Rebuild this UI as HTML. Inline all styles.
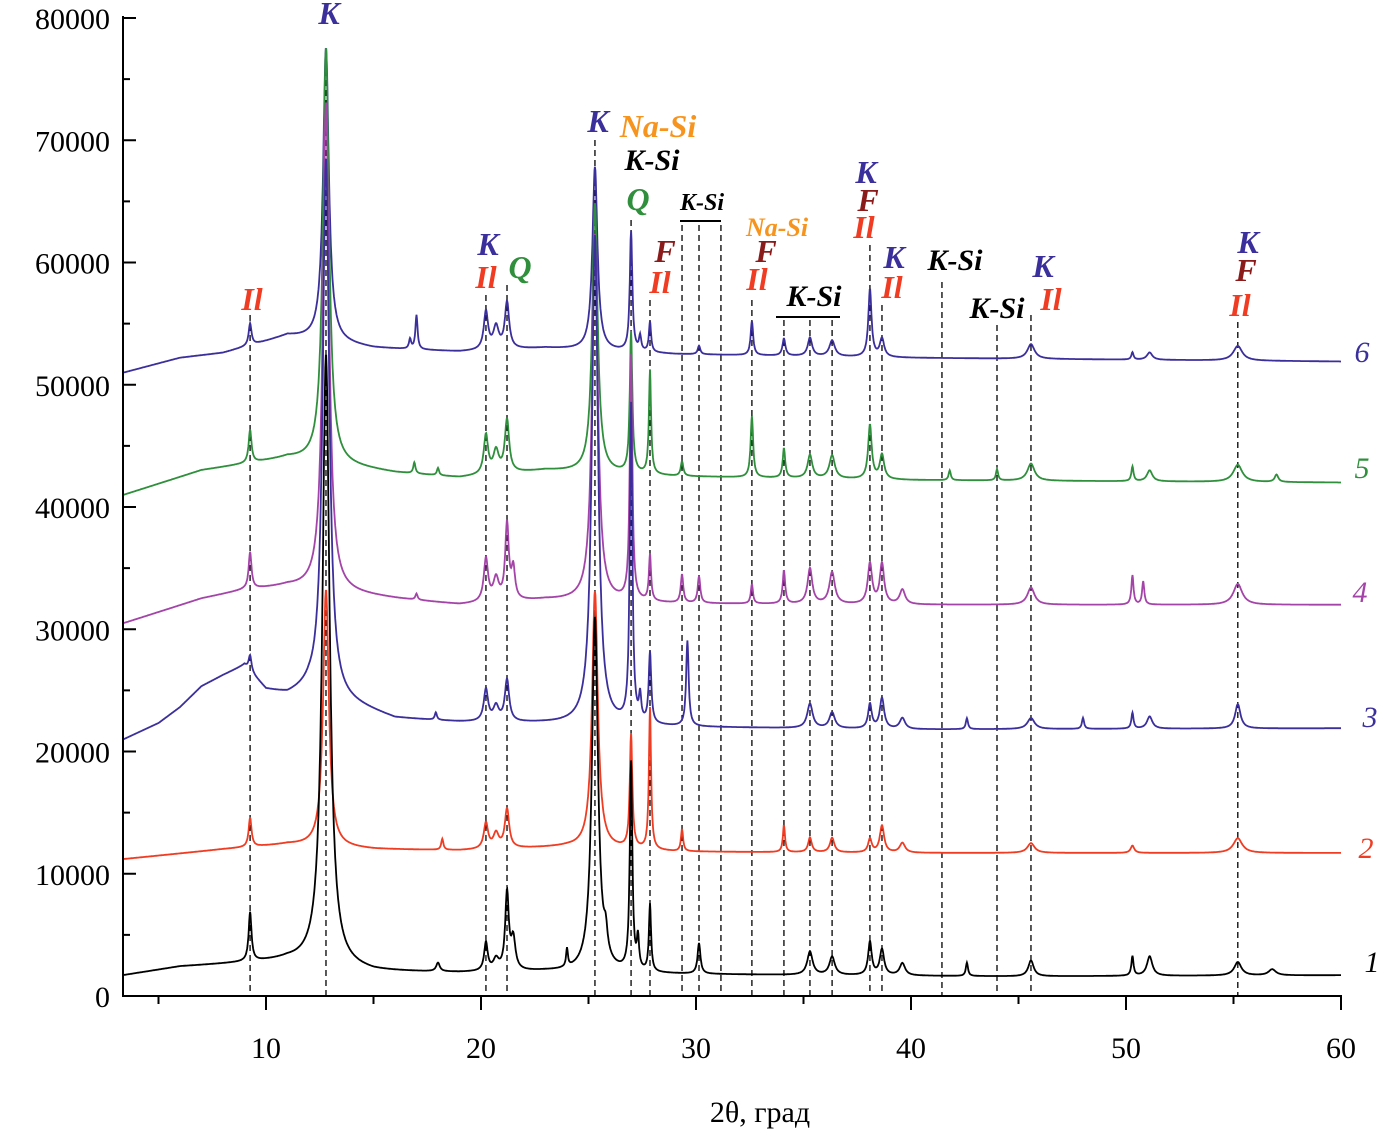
<!DOCTYPE html>
<html><head><meta charset="utf-8">
<style>
html,body{margin:0;padding:0;background:#fff;}
svg{display:block;font-family:"Liberation Serif",serif;}
.lab{font-weight:bold;font-style:italic;}
</style></head>
<body>
<svg id="chart" width="1379" height="1133" viewBox="0 0 1379 1133" xmlns="http://www.w3.org/2000/svg">
<g id="grid-lines"></g>
<g id="series"></g>
<g id="axes"></g>
<g id="labels"></g>
<text x="760" y="1122" font-size="30" text-anchor="middle">2θ, град</text>
</svg>
<script>
// ---- data ----
const xTicks = [10,20,30,40,50,60];
const yTicks = [0,10000,20000,30000,40000,50000,60000,70000,80000];
const markerPositions = [9.26,12.79,20.23,21.21,25.3,26.98,27.86,29.35,30.14,31.16,32.6,34.09,35.3,36.33,38.09,38.65,41.44,44.0,45.58,55.2];
const seriesNames = ["1","2","3","4","5","6"];
const seriesColors = ["#000000","#f03c22","#3b2f9c","#a444a8","#2f8f3c","#3b2f9c"];
// baselines: [2θ, intensity]
const base1 = [[3.4,1700],[6,2400],[8,2600],[11,2900],[15,2000],[19,1900],[23,2000],[28,1800],[35,1700],[45,1600],[60,1700]];
const base2 = [[3.4,11200],[8,12000],[11,12400],[15,12000],[19,11900],[24,12200],[29,11800],[40,11700],[60,11700]];
const base3 = [[3.4,21000],[5,22300],[6,23600],[7,25300],[8,26200],[9,27000],[10,25000],[11,24600],[12,25000],[16,22700],[19,22400],[23,22300],[29,22000],[40,21800],[60,21900]];
const base4 = [[3.4,30500],[7,32500],[9,33200],[11,33500],[16,32500],[19,32000],[23,32400],[29,32100],[40,32000],[60,32000]];
const base5 = [[3.4,41000],[7,43000],[9,43500],[11,44000],[16,42800],[19,42400],[23,43000],[29,42500],[40,42200],[60,42000]];
const base6 = [[3.4,51000],[6,52200],[8,52600],[11,54000],[15,53000],[19,52700],[23,53000],[29,52500],[40,52200],[60,51900]];
// peaks: [position, height above baseline, half-width]
const peaks1 = [[9.26,4000,0.08],[12.79,50000,0.2],[18,700,0.1],[20.23,2300,0.1],[20.7,900,0.15],[21.21,6300,0.1],[21.5,2500,0.12],[24,1500,0.05],[25.3,29000,0.17],[25.8,1800,0.1],[26.98,17000,0.07],[27.3,2500,0.06],[27.86,5500,0.06],[30.14,2500,0.08],[35.3,1900,0.15],[36.33,1500,0.15],[38.09,2700,0.1],[38.65,2100,0.12],[39.6,1000,0.15],[42.6,1100,0.06],[45.58,1300,0.15],[50.3,1600,0.06],[51.1,1600,0.15],[55.2,1100,0.2],[56.8,500,0.2]];
const peaks2 = [[9.26,2400,0.08],[12.79,21000,0.16],[18.2,900,0.06],[20.23,2100,0.12],[20.7,1200,0.15],[21.21,3200,0.12],[25.3,21000,0.16],[26.98,9300,0.07],[27.86,11600,0.06],[29.35,1800,0.06],[34.09,2200,0.06],[35.3,1200,0.1],[36.33,1200,0.12],[38.09,1100,0.1],[38.65,2200,0.12],[39.6,800,0.15],[45.58,800,0.2],[50.3,600,0.1],[55.2,1200,0.25]];
const peaks3 = [[9.26,1300,0.08],[12.79,44000,0.18],[17.9,600,0.06],[20.23,2600,0.12],[20.7,1200,0.15],[21.21,3400,0.12],[25.3,40000,0.17],[26.98,26000,0.07],[27.4,2000,0.06],[27.86,5800,0.07],[29.6,7000,0.07],[35.3,2000,0.15],[36.33,1300,0.15],[38.09,2000,0.1],[38.65,2500,0.12],[39.6,900,0.15],[42.6,900,0.06],[45.58,900,0.2],[48,900,0.06],[50.3,1300,0.06],[51.1,1000,0.15],[55.2,2000,0.15]];
const peaks4 = [[9.26,3000,0.08],[12.79,40000,0.17],[17,500,0.06],[20.23,3500,0.12],[20.7,1800,0.15],[21.21,6200,0.1],[21.5,2500,0.1],[25.3,30000,0.16],[26.98,20000,0.07],[27.86,3800,0.06],[29.35,2300,0.07],[30.14,2200,0.07],[32.6,1600,0.06],[34.09,2700,0.07],[35.3,2900,0.13],[36.33,2600,0.15],[38.09,3300,0.12],[38.65,3300,0.12],[39.6,1200,0.15],[45.58,1400,0.2],[50.3,2400,0.06],[50.8,1900,0.06],[55.2,1700,0.25]];
const peaks5 = [[9.26,2700,0.08],[12.79,34000,0.17],[16.9,900,0.06],[18,600,0.06],[20.23,3200,0.12],[20.7,1800,0.15],[21.21,4300,0.12],[25.3,22000,0.15],[26.98,11500,0.07],[27.86,8500,0.06],[29.35,1200,0.07],[32.6,5000,0.07],[34.09,2400,0.07],[35.3,1900,0.13],[36.33,1900,0.15],[38.09,4400,0.1],[38.65,2000,0.12],[41.8,800,0.06],[44,900,0.06],[45.58,1400,0.2],[50.3,1200,0.06],[51.1,900,0.15],[55.2,1400,0.25],[57,600,0.1]];
const peaks6 = [[9.26,1800,0.08],[12.79,24000,0.16],[16.7,800,0.06],[17,2800,0.06],[20.23,3100,0.12],[20.7,1800,0.15],[21.21,3800,0.12],[25.3,15000,0.14],[26.98,9800,0.07],[27.4,1200,0.06],[27.86,2500,0.06],[30.14,700,0.07],[32.6,2800,0.07],[34.09,1400,0.08],[35.3,1500,0.12],[36.33,1300,0.15],[38.09,5500,0.09],[38.65,1500,0.12],[45.58,1200,0.2],[50.3,600,0.06],[51.1,600,0.15],[55.2,1200,0.25]];
const baselines = [base1,base2,base3,base4,base5,base6];
const peakLists = [peaks1,peaks2,peaks3,peaks4,peaks5,peaks6];

// ---- axes functions ----
const X0=266, XS=21.5, Y0=996, YS=0.012225, XMIN=3.38, XMAX=60;
function xs(v){return X0+(v-10)*XS;}
function ys(v){return Y0-v*YS;}
const NS="http://www.w3.org/2000/svg";
function mk(tag,attrs,parent){const e=document.createElementNS(NS,tag);for(const k in attrs)e.setAttribute(k,attrs[k]);parent.appendChild(e);return e;}
function baseAt(b,x){for(let i=0;i<b.length-1;i++){if(x<=b[i+1][0]){const t=(x-b[i][0])/(b[i+1][0]-b[i][0]);return b[i][1]+t*(b[i+1][1]-b[i][1]);}}return b[b.length-1][1];}

// marker lines
const gl=document.getElementById('grid-lines');
const markerTops=[315,60,295,285,140,220,300,225,225,225,300,320,320,320,245,305,282,325,315,322];
markerPositions.forEach((p,i)=>{
  const l=mk('line',{x1:xs(p),x2:xs(p),y1:markerTops[i],y2:Y0,stroke:'#000','stroke-width':1.3,'stroke-dasharray':'6,4'},gl);
  
  
});

// series
const sg=document.getElementById('series');
for(let s=5;s>=0;s--){
  let d='';
  for(let x=XMIN;x<=XMAX+1e-9;x+=0.02){
    let v=baseAt(baselines[s],x);
    for(const p of peakLists[s]){const u=(x-p[0])/p[2];v+=p[1]/(1+u*u);}
    d+=(d?'L':'M')+xs(x).toFixed(1)+','+Math.max(ys(v),10).toFixed(1);
  }
  const path=mk('path',{d:d,fill:'none',stroke:seriesColors[s],'stroke-width':1.8},sg);
  
  
}

// axes
const ax=document.getElementById('axes');
mk('line',{x1:123,x2:123,y1:16,y2:997,stroke:'#000','stroke-width':2},ax);
mk('line',{x1:122,x2:1342,y1:996,y2:996,stroke:'#000','stroke-width':2},ax);
yTicks.forEach(t=>{
  mk('line',{x1:123,x2:136,y1:ys(t),y2:ys(t),stroke:'#000','stroke-width':2},ax);
  const tx=mk('text',{x:110,y:ys(t)+11,'font-size':30,'text-anchor':'end'},ax);
  tx.textContent=t;
  
  
  if(t<80000)mk('line',{x1:123,x2:130,y1:ys(t+5000),y2:ys(t+5000),stroke:'#000','stroke-width':2},ax);
});
xTicks.forEach(t=>{
  mk('line',{x1:xs(t),x2:xs(t),y1:996,y2:1010,stroke:'#000','stroke-width':2},ax);
  mk('line',{x1:xs(t-5),x2:xs(t-5),y1:996,y2:1004,stroke:'#000','stroke-width':2},ax);
  const tx=mk('text',{x:xs(t),y:1058,'font-size':30,'text-anchor':'middle'},ax);
  tx.textContent=t;
  
  
});
// series numbers
const numPos=[[1372,972],[1366,858],[1370,727],[1360,602],[1362,478],[1362,362]];
numPos.forEach((p,i)=>{
  const t=mk('text',{x:p[0],y:p[1],'font-size':30,'font-style':'italic',fill:seriesColors[i],'text-anchor':'middle'},ax);
  t.textContent=seriesNames[i];
  
  
});

// phase labels
const lg=document.getElementById('labels');
const BL='#3b2f9c',RD='#f03c22',GR='#2f8f3c',OR='#f7941d',DR='#8b1a1a',BK='#000';
const labs=[["K",329,24,BL,32],["Il",252,310,RD,32],["K",488,255,BL,32],["Il",486,288,RD,32],["Q",520,278,GR,32],
["K",598,132,BL,32],["Na-Si",658,137,OR,32],["K-Si",652,170,BK,30],["Q",638,210,GR,32],["K-Si",702,210,BK,24],
["F",665,262,DR,32],["Il",660,293,RD,32],["Na-Si",777,236,OR,26],["F",766,262,DR,32],["Il",757,290,RD,32],
["K-Si",814,306,BK,30],["K",866,183,BL,32],["F",868,211,DR,32],["Il",864,238,RD,32],["K",894,268,BL,32],["Il",892,298,RD,32],
["K-Si",955,270,BK,30],["K-Si",997,318,BK,30],["K",1043,277,BL,32],["Il",1051,310,RD,32],["K",1248,253,BL,32],["F",1246,281,DR,32],["Il",1240,316,RD,32]];
labs.forEach(l=>{
  const t=mk('text',{x:l[1],y:l[2],fill:l[3],'font-size':l[4],'text-anchor':'middle',class:'lab'},lg);
  t.textContent=l[0];
  
  
});
mk('line',{x1:680,x2:721,y1:221,y2:221,stroke:'#000','stroke-width':2},lg);
mk('line',{x1:776,x2:840,y1:317,y2:317,stroke:'#000','stroke-width':2},lg);
</script>
</body></html>
